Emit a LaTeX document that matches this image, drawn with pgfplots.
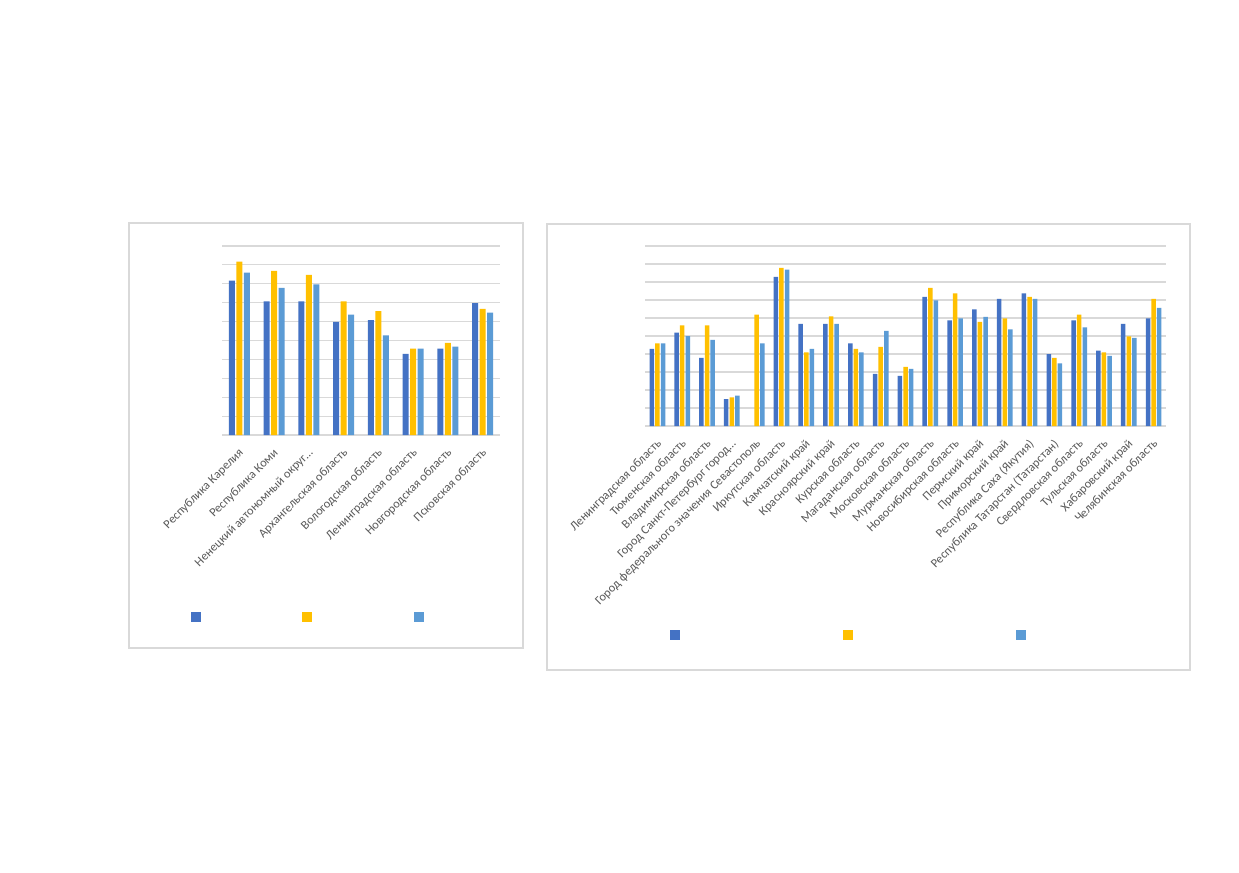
\documentclass[border=0pt]{standalone}
\usepackage{pgfplots}
\usepackage{pgfplotstable}
\usepackage{fontspec}
\setmainfont{Carlito}
\pgfplotsset{compat=1.18}
\definecolor{sA}{HTML}{4472C4}
\definecolor{sB}{HTML}{FFC000}
\definecolor{sC}{HTML}{5B9BD5}
\definecolor{gridc}{HTML}{D9D9D9}
\definecolor{labc}{HTML}{595959}

\pgfplotstableread{
x a b c
0 8.17 9.17 8.59
1 7.07 8.68 7.78
2 7.07 8.47 7.97
3 5.98 7.07 6.37
4 6.08 6.56 5.27
5 4.29 4.57 4.57
6 4.57 4.87 4.67
7 6.98 6.67 6.47
}\leftdata

\pgfplotstableread{
x a b c
0 4.28 4.59 4.59
1 5.19 5.59 5.00
2 3.78 5.59 4.78
3 1.50 1.59 1.69
4 nan 6.19 4.59
5 8.28 8.78 8.69
6 5.67 4.09 4.28
7 5.67 6.09 5.67
8 4.59 4.28 4.09
9 2.89 4.39 5.28
10 2.78 3.28 3.17
11 7.17 7.67 6.98
12 5.87 7.37 5.98
13 6.48 5.78 6.07
14 7.07 5.98 5.37
15 7.37 7.17 7.07
16 4.00 3.78 3.48
17 5.87 6.19 5.48
18 4.19 4.09 3.89
19 5.67 4.98 4.89
20 5.98 7.07 6.57
}\rightdata

\pgfplotsset{
  sq/.style={draw=none, fill=#1,
    legend image code/.code={\fill[#1] (0pt,-3.4pt) rectangle (6.8pt,3.4pt);}},
  excel/.style={
    scale only axis,
    ymin=0, ymax=10, ytick={0,1,...,10},
    yticklabels={},
    ymajorgrids, grid style={draw=gridc, line width=0.8pt},
    axis line style={draw=none},
    major tick length=0pt,
    xticklabel style={xshift=-1.0pt, yshift=-6.8pt, rotate=45, anchor=north east, font=\fontsize{8.4}{9.5}\selectfont, text=labc, inner sep=1pt},
    legend columns=3,
    legend style={draw=none, fill=none, inner sep=0pt, anchor=west,
      nodes={inner sep=0pt}},
  }
}

\begin{document}
\begin{tikzpicture}
\begin{scope}[x=0.68pt, y=-0.68pt]
\useasboundingbox[fill=white] (0,0) rectangle (1239,872);
\draw[gridc, line width=0.8pt] (129,223) rectangle (523,648);
\draw[gridc, line width=0.8pt] (547,224) rectangle (1190,670);
\end{scope}

\begin{axis}[excel,
  at={(222*0.68pt,-435*0.68pt)}, anchor=south west,
  width=278*0.68pt, height=189*0.68pt,
  xmin=-0.5, xmax=7.5, xtick={0,...,7},
  ybar=1.0pt, bar width=4.1pt,
  xticklabels={Республика Карелия, Республика Коми, Ненецкий автономный округ…, Архангельская область, Вологодская область, Ленинградская область, Новгородская область, Псковская область},
  legend style={at={(-0.113,-0.963)}},
]
\addplot[sq=sA] table[x=x, y=a] {\leftdata};
\addplot[sq=sB] table[x=x, y=b] {\leftdata};
\addplot[sq=sC] table[x=x, y=c] {\leftdata};
\addlegendentry{\hspace*{69pt}}
\addlegendentry{\hspace*{69pt}}
\addlegendentry{\hspace*{1pt}}
\end{axis}

\begin{axis}[excel,
  at={(645*0.68pt,-426*0.68pt)}, anchor=south west,
  width=521*0.68pt, height=180*0.68pt,
  xmin=-0.5, xmax=20.5, xtick={0,...,20},
  ybar=0.75pt, bar width=3.06pt,
  xticklabels={Ленинградская область, Тюменская область, Владимирская область, Город Санкт-Петербург город…, Город федерального значения Севастополь, Иркутская область, Камчатский край, Красноярский край, Курская область, Магаданская область, Московская область, Мурманская область, Новосибирская область, Пермский край, Приморский край, Республика Саха (Якутия), Республика Татарстан (Татарстан), Свердловская область, Тульская область, Хабаровский край, Челябинская область},
  legend style={at={(0.048,-1.161)}},
]
\addplot[sq=sA] table[x=x, y=a] {\rightdata};
\addplot[sq=sB] table[x=x, y=b] {\rightdata};
\addplot[sq=sC] table[x=x, y=c] {\rightdata};
\addlegendentry{\hspace*{110.8pt}}
\addlegendentry{\hspace*{110.8pt}}
\addlegendentry{\hspace*{1pt}}
\end{axis}
\end{tikzpicture}
\end{document}
